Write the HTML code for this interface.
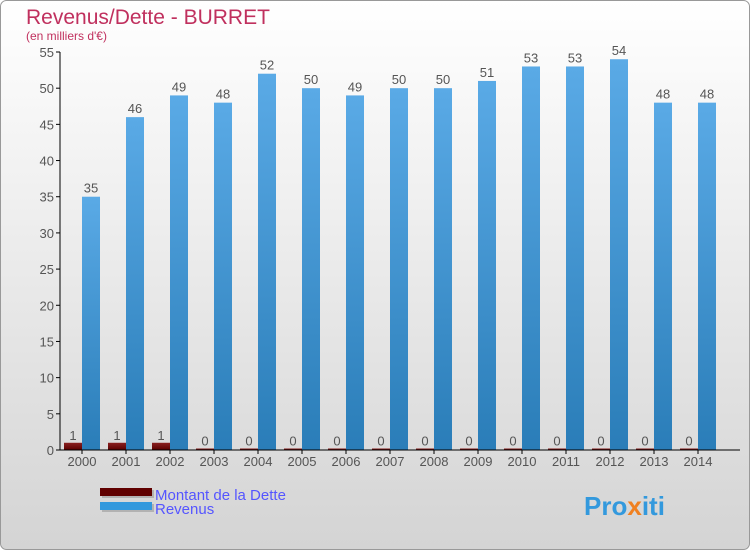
<!DOCTYPE html>
<html><head><meta charset="utf-8"><style>
body{margin:0;width:750px;height:550px;overflow:hidden;font-family:"Liberation Sans",sans-serif}
</style></head><body>
<svg width="750" height="550" xmlns="http://www.w3.org/2000/svg">
<defs>
<linearGradient id="bg" x1="0" y1="0" x2="0" y2="1"><stop offset="0" stop-color="#ffffff"/><stop offset="1" stop-color="#d4d4d4"/></linearGradient>
<linearGradient id="rev" x1="0" y1="0" x2="0" y2="1"><stop offset="0" stop-color="#5aaae6"/><stop offset="1" stop-color="#2a7db8"/></linearGradient>
<linearGradient id="debt" x1="0" y1="0" x2="0" y2="1"><stop offset="0" stop-color="#8a2020"/><stop offset="1" stop-color="#5a0000"/></linearGradient>
</defs>
<rect x="0.5" y="0.5" width="749" height="549" rx="6" fill="url(#bg)" stroke="#999"/>
<text x="26" y="24" font-size="21" fill="#c0305e">Revenus/Dette - BURRET</text>
<text x="26" y="40" font-size="12" fill="#c0305e">(en milliers d'€)</text>
<g id="plot"></g>
<g>
<rect x="102" y="490" width="52" height="8" fill="#999" opacity="0.6"/>
<rect x="100" y="488" width="52" height="8" fill="#600000"/>
<rect x="102" y="504" width="52" height="8" fill="#999" opacity="0.6"/>
<rect x="100" y="502" width="52" height="8" fill="#3399dd"/>
<text x="155" y="500" font-size="15" fill="#5555ff">Montant de la Dette</text>
<text x="155" y="514" font-size="15" fill="#5555ff">Revenus</text>
</g>
<text x="584" y="515" font-size="26" font-weight="bold" fill="#3399dd">Pro<tspan fill="#f08020">x</tspan>iti</text>
</svg>
<script>
const years=["2000","2001","2002","2003","2004","2005","2006","2007","2008","2009","2010","2011","2012","2013","2014"];
const debt=[1,1,1,0,0,0,0,0,0,0,0,0,0,0,0];
const revenue=[35,46,49,48,52,50,49,50,50,51,53,53,54,48,48];
const yTicks=[0,5,10,15,20,25,30,35,40,45,50,55];
const NS="http://www.w3.org/2000/svg";
const g=document.getElementById('plot');
const y0=450,y1=52,yMax=55,x0=82,step=44,bw=18;
const Y=v=>y0-(v/yMax)*(y0-y1);
const X=i=>x0+i*step;
function mk(t,a,txt){const e=document.createElementNS(NS,t);for(const k in a)e.setAttribute(k,a[k]);if(txt!==undefined)e.textContent=txt;g.appendChild(e);return e;}
yTicks.forEach(v=>{
 const l=mk('line',{x1:56,x2:60,y1:Y(v),y2:Y(v),stroke:'#000'});
 
 
 const t=mk('text',{x:54,y:Y(v)+5,'font-size':13,fill:'#555','text-anchor':'end'},v);
 
 
});
years.forEach((yr,i)=>{
 const cx=X(i);
 const dh=Math.max(y0-Y(debt[i]),1.5);
 const d=mk('rect',{x:cx-bw,y:y0-dh,width:bw,height:dh,fill:'url(#debt)'});
 
 
 const r=mk('rect',{x:cx,y:Y(revenue[i]),width:bw,height:y0-Y(revenue[i]),fill:'url(#rev)'});
 
 
 const dl=mk('text',{x:cx-bw/2,y:y0-dh-3,'font-size':13,fill:'#555','text-anchor':'middle'},debt[i]);
 
 
 const rl=mk('text',{x:cx+bw/2,y:Y(revenue[i])-4,'font-size':13,fill:'#555','text-anchor':'middle'},revenue[i]);
 
 
 const tk=mk('line',{x1:cx,x2:cx,y1:y0,y2:y0+4,stroke:'#000'});
 
 
 const xl=mk('text',{x:cx,y:y0+16,'font-size':13,fill:'#555','text-anchor':'middle'},yr);
 
 
});
const ya=mk('line',{x1:60,x2:60,y1:y1,y2:y0,stroke:'#000'});


const xa=mk('line',{x1:60,x2:740,y1:y0,y2:y0,stroke:'#000'});


</script>
</body></html>
